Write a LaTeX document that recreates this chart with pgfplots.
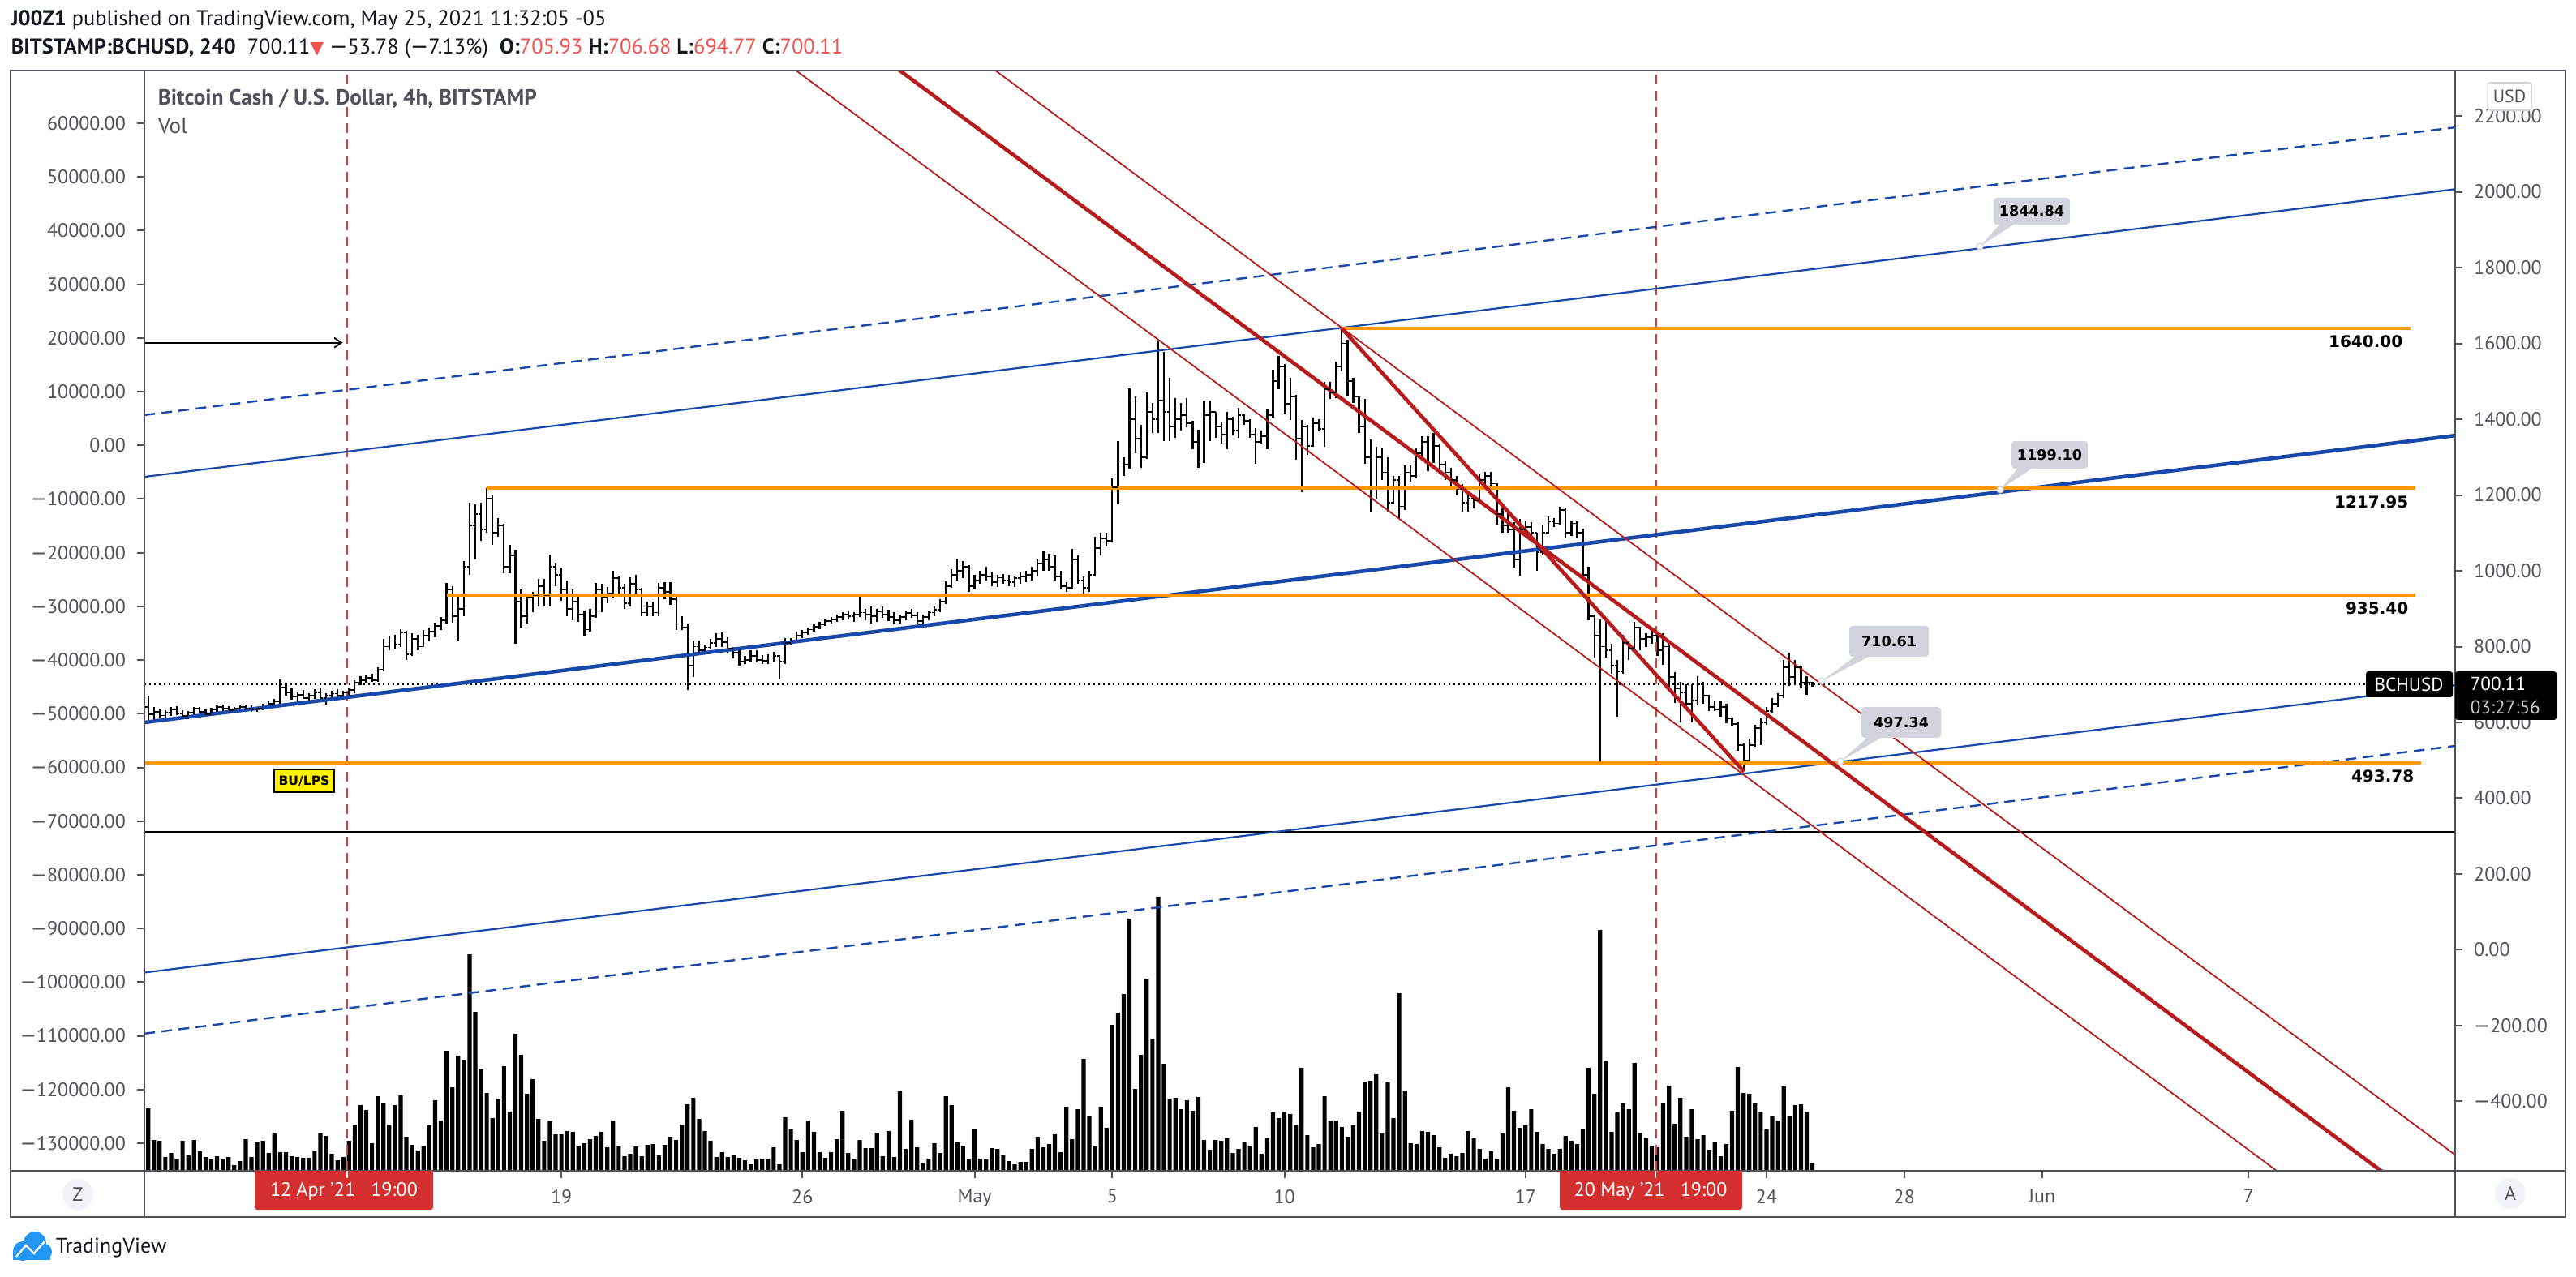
\documentclass[border=0pt]{standalone}
\usepackage{fontspec}
\setmainfont{PT Sans}
\newfontfamily\dv{DejaVu Sans}
\usepackage{pgfplots}
\pgfplotsset{compat=1.18}
\usepackage{pgfplotstable}
\usetikzlibrary{arrows.meta}
\definecolor{tvgray}{RGB}{80,83,94}
\definecolor{tvdark}{RGB}{19,23,34}
\definecolor{tvblue}{RGB}{24,72,170}
\definecolor{tvred}{RGB}{183,28,28}
\definecolor{tvorange}{RGB}{255,152,0}
\definecolor{tvdash}{RGB}{229,57,53}
\definecolor{tvlbl}{RGB}{209,212,220}
\definecolor{tvdate}{RGB}{211,47,47}
\definecolor{tvred2}{RGB}{239,83,80}
\definecolor{tvcirc}{RGB}{240,243,250}
\definecolor{tvlogo}{RGB}{33,150,243}
\newcommand\fs[1]{\fontsize{#1}{#1}\selectfont}
\newcommand\mn{{\dv −}}
\pgfdeclareplotmark{nothing}{}
\pgfdeclareplotmark{otick}{\pgfpathmoveto{\pgfqpoint{-0.85pt}{0pt}}\pgfpathlineto{\pgfqpoint{0pt}{0pt}}\pgfusepathqstroke}
\pgfdeclareplotmark{ctick}{\pgfpathmoveto{\pgfqpoint{0pt}{0pt}}\pgfpathlineto{\pgfqpoint{0.85pt}{0pt}}\pgfusepathqstroke}
\pgfplotstableread{
i o h l c
0 640 671 600 622
1 622 640 605 628
2 628 637 612 618
3 618 632 603 625
4 625 640 618 635
5 635 642 620 624
6 624 633 610 617
7 617 630 608 626
8 626 640 620 636
9 636 641 624 628
10 628 634 615 622
11 622 638 618 634
12 634 646 628 640
13 640 648 630 636
14 636 642 626 632
15 632 640 624 637
16 637 646 632 641
17 641 647 633 636
18 636 644 628 634
19 634 641 627 637
20 637 650 632 646
21 646 656 640 650
22 650 662 644 656
23 656 714 650 693
24 693 705 670 680
25 680 692 660 668
26 668 680 655 672
27 672 686 662 665
28 665 678 650 670
29 670 688 662 680
30 680 690 660 664
31 664 676 648 670
32 670 684 660 676
33 676 688 665 670
34 670 684 662 678
35 678 692 668 685
36 685 712 676 705
37 705 722 698 712
38 712 726 704 718
39 718 728 706 712
40 712 745 708 740
41 740 821 735 800
42 800 829 790 815
43 815 832 795 805
44 805 846 800 838
45 838 842 764 780
46 780 835 775 820
47 820 830 790 800
48 800 843 798 830
49 830 850 815 840
50 840 864 825 855
51 855 879 843 870
52 870 968 860 950
53 950 960 864 880
54 880 935 814 900
55 900 1025 880 1010
56 1010 1179 990 1120
57 1120 1175 1029 1150
58 1150 1179 1079 1110
59 1110 1218 1100 1190
60 1190 1200 1068 1100
61 1100 1140 1090 1120
62 1120 1125 993 1010
63 1010 1068 993 1040
64 1040 1055 807 920
65 920 950 850 880
66 880 940 860 930
67 930 945 890 935
68 935 978 905 960
69 960 978 905 935
70 935 1043 906 1010
71 1010 1022 960 990
72 990 1008 920 950
73 950 975 880 900
74 900 950 870 920
75 920 940 865 885
76 885 895 829 845
77 845 900 840 880
78 880 968 875 950
79 950 965 890 930
80 930 958 915 940
81 940 1000 929 980
82 980 985 940 955
83 955 965 900 915
84 915 982 905 965
85 965 990 940 950
86 950 955 880 890
87 890 918 880 905
88 905 918 880 890
89 890 968 880 955
90 955 970 925 945
91 945 970 910 925
92 925 935 843 860
93 860 880 843 850
94 850 860 686 750
95 750 816 720 800
96 800 816 780 790
97 790 805 785 798
98 798 820 795 810
99 810 835 800 820
100 820 838 800 812
101 812 825 785 795
102 795 800 770 785
103 785 790 750 760
104 760 775 755 765
105 765 790 760 775
106 775 790 758 765
107 765 778 754 762
108 762 780 755 770
109 770 786 760 775
110 775 778 714 760
111 760 822 755 810
112 810 822 805 815
113 815 840 810 830
114 830 843 822 838
115 838 850 830 845
116 845 858 840 852
117 852 865 845 858
118 858 872 855 868
119 868 879 860 872
120 872 885 865 878
121 878 890 870 884
122 884 895 872 880
123 880 890 865 885
124 885 932 879 890
125 890 900 870 885
126 885 905 860 880
127 880 900 865 892
128 892 905 875 885
129 885 898 868 878
130 878 890 858 870
131 870 885 860 878
132 878 895 870 888
133 888 900 875 882
134 882 892 858 868
135 868 885 862 878
136 878 895 870 890
137 890 905 880 898
138 898 925 890 918
139 918 972 912 960
140 960 1005 955 990
141 990 1033 975 1000
142 1000 1026 980 1010
143 1010 1015 944 960
144 960 990 950 975
145 975 1000 965 990
146 990 1010 975 985
147 985 995 960 970
148 970 990 958 982
149 982 992 965 975
150 975 990 960 970
151 970 985 958 980
152 980 995 965 985
153 985 1000 970 990
154 990 1010 975 1000
155 1000 1030 985 1020
156 1020 1051 1000 1030
157 1030 1045 1000 1010
158 1010 1040 975 985
159 985 1000 950 960
160 960 970 945 955
161 955 1057 951 1030
162 1030 1040 965 975
163 975 985 940 955
164 955 1000 945 990
165 990 1090 985 1060
166 1060 1100 1040 1085
167 1085 1100 1065 1080
168 1080 1243 1075 1220
169 1220 1343 1175 1290
170 1290 1300 1250 1280
171 1280 1481 1270 1400
172 1400 1460 1310 1350
173 1350 1385 1271 1300
174 1300 1470 1295 1420
175 1420 1442 1364 1400
176 1400 1606 1364 1450
177 1450 1577 1343 1420
178 1420 1510 1343 1380
179 1380 1456 1350 1400
180 1400 1442 1370 1410
181 1410 1456 1378 1390
182 1390 1395 1321 1340
183 1340 1372 1271 1290
184 1290 1449 1285 1410
185 1410 1449 1342 1420
186 1420 1420 1350 1380
187 1380 1392 1335 1360
188 1360 1420 1321 1400
189 1400 1407 1357 1370
190 1370 1431 1350 1410
191 1410 1413 1385 1395
192 1395 1400 1350 1360
193 1360 1377 1282 1340
194 1340 1370 1335 1355
195 1355 1428 1321 1410
196 1410 1531 1405 1500
197 1500 1567 1480 1540
198 1540 1545 1414 1440
199 1440 1509 1399 1460
200 1460 1465 1293 1350
201 1350 1399 1207 1380
202 1380 1385 1306 1330
203 1330 1405 1328 1390
204 1390 1400 1368 1375
205 1375 1499 1328 1480
206 1480 1499 1453 1470
207 1470 1552 1456 1540
208 1540 1640 1527 1600
209 1600 1610 1463 1500
210 1500 1510 1442 1460
211 1460 1460 1364 1380
212 1380 1453 1282 1300
213 1300 1346 1154 1200
214 1200 1328 1190 1300
215 1300 1325 1240 1260
216 1260 1300 1157 1180
217 1180 1250 1175 1240
218 1240 1250 1136 1170
219 1170 1278 1160 1260
220 1260 1278 1235 1250
221 1250 1324 1245 1310
222 1310 1356 1300 1340
223 1340 1356 1264 1290
224 1290 1364 1285 1330
225 1330 1335 1260 1280
226 1280 1290 1240 1260
227 1260 1271 1214 1240
228 1240 1250 1200 1215
229 1215 1229 1157 1180
230 1180 1200 1157 1190
231 1190 1200 1164 1185
232 1185 1257 1180 1240
233 1240 1260 1221 1250
234 1250 1260 1221 1230
235 1230 1232 1122 1150
236 1150 1164 1100 1120
237 1120 1157 1100 1110
238 1110 1129 1008 1030
239 1030 1136 987 1110
240 1110 1132 1100 1115
241 1115 1129 1086 1100
242 1100 1100 1001 1050
243 1050 1122 1040 1100
244 1100 1143 1096 1130
245 1130 1140 1115 1125
246 1125 1168 1122 1160
247 1160 1164 1086 1100
248 1100 1130 1093 1125
249 1125 1130 1086 1100
250 1100 1111 979 990
251 990 1011 870 880
252 880 885 772 830
253 830 872 493.78 800
254 800 865 772 790
255 790 808 729 750
256 750 765 615 735
257 735 830 729 810
258 810 815 765 795
259 795 865 790 850
260 850 852 790 820
261 820 836 800 825
262 825 843 808 830
263 830 833 776 790
264 790 836 751 800
265 800 815 693 720
266 720 733 651 690
267 690 708 600 680
268 680 700 640 650
269 650 700 600 658
270 658 722 644 700
271 700 708 650 670
272 670 672 629 640
273 640 658 629 635
274 635 658 615 640
275 640 650 597 610
276 610 612 590 595
277 595 600 526 540
278 540 545 472 500
279 500 558 498 540
280 540 593 535 585
281 585 611 540 600
282 600 640 593 630
283 630 665 626 650
284 650 676 640 670
285 670 765 665 745
286 745 783 697 720
287 720 765 700 745
288 745 750 690 705
289 705 722 672 706
290 705.93 706.68 694.77 700.11
}\ohlc
\pgfplotstableread{
i v
0 77
1 38
2 37
3 17
4 22
5 15
6 37
7 19
8 38
9 24
10 17
11 14
12 18
13 14
14 17
15 7
16 12
17 39
18 17
19 35
20 37
21 22
22 46
23 23
24 23
25 18
26 17
27 16
28 16
29 25
30 46
31 43
32 21
33 13
34 17
35 37
36 56
37 81
38 75
39 34
40 92
41 84
42 57
43 81
44 93
45 42
46 32
47 25
48 31
49 56
50 87
51 62
52 148
53 103
54 142
55 137
56 267
57 196
58 126
59 96
60 65
61 89
62 129
63 73
64 169
65 143
66 95
67 113
68 64
69 37
70 62
71 45
72 45
73 49
74 48
75 31
76 34
77 39
78 43
79 48
80 29
81 62
82 30
83 18
84 21
85 30
86 18
87 32
88 33
89 19
90 32
91 42
92 38
93 57
94 82
95 90
96 64
97 49
98 37
99 17
100 23
101 17
102 20
103 16
104 13
105 8
106 14
107 15
108 15
109 29
110 8
111 66
112 51
113 38
114 23
115 62
116 48
117 23
118 16
119 23
120 39
121 74
122 22
123 15
124 38
125 28
126 28
127 47
128 18
129 49
130 17
131 98
132 27
133 63
134 29
135 9
136 15
137 34
138 22
139 92
140 81
141 35
142 31
143 14
144 52
145 15
146 14
147 28
148 27
149 19
150 12
151 8
152 11
153 11
154 27
155 42
156 29
157 33
158 45
159 23
160 79
161 39
162 76
163 138
164 68
165 31
166 79
167 53
168 180
169 195
170 218
171 311
172 101
173 143
174 237
175 163
176 338
177 132
178 89
179 90
180 76
181 87
182 74
183 91
184 38
185 26
186 38
187 37
188 40
189 22
190 27
191 36
192 31
193 54
194 21
195 41
196 72
197 65
198 73
199 70
200 56
201 127
202 44
203 29
204 33
205 92
206 62
207 62
208 54
209 42
210 56
211 73
212 110
213 111
214 119
215 46
216 110
217 65
218 219
219 99
220 34
221 33
222 49
223 48
224 44
225 29
226 16
227 21
228 18
229 22
230 49
231 40
232 27
233 15
234 24
235 15
236 46
237 103
238 74
239 53
240 56
241 76
242 48
243 33
244 27
245 21
246 27
247 43
248 37
249 33
250 52
251 127
252 95
253 297
254 135
255 48
256 72
257 83
258 76
259 133
260 46
261 41
262 31
263 29
264 84
265 105
266 58
267 90
268 42
269 76
270 39
271 44
272 26
273 36
274 18
275 33
276 74
277 128
278 96
279 95
280 83
281 73
282 51
283 68
284 62
285 104
286 68
287 81
288 82
289 73
290 10
}\vol
\pgfplotsset{tvax/.style={at={(44.5pt,32.5pt)}, anchor=south west, width=712.25pt, height=339.25pt, scale only axis, xmin=6.89, xmax=74, scaled x ticks=false, scaled y ticks=false}}
\begin{document}
\begin{tikzpicture}
\path[use as bounding box] (0pt,0pt) rectangle (794pt,393.5pt);
\fill[white] (0pt,0pt) rectangle (794pt,393.5pt);
% volume
\begin{axis}[tvax, ymin=0, ymax=1357, hide axis]
\addplot [ybar, bar width=1.3pt, bar shift=0pt, fill=black, draw=none] table [x expr=7+\thisrow{i}/6, y=v] {\vol};
\end{axis}
% left scale
\begin{axis}[tvax, ymin=-135137, ymax=69817, axis line style={draw=none}, xtick=\empty,
  ytick={-130000,-120000,-110000,-100000,-90000,-80000,-70000,-60000,-50000,-40000,-30000,-20000,-10000,0,10000,20000,30000,40000,50000,60000},
  yticklabels={{\mn130000.00},{\mn120000.00},{\mn110000.00},{\mn100000.00},{\mn90000.00},{\mn80000.00},{\mn70000.00},{\mn60000.00},{\mn50000.00},{\mn40000.00},{\mn30000.00},{\mn20000.00},{\mn10000.00},0.00,10000.00,20000.00,30000.00,40000.00,50000.00,60000.00},
  ytick pos=left, tick align=outside, major tick length=2.25pt,
  tick style={tvgray, line width=0.5pt},
  yticklabel style={font=\fs{6}, text=tvgray}]
\end{axis}
% price
\begin{axis}[tvax, ymin=-583, ymax=2320, axis line style={draw=none},
  ytick={-400,-200,0,200,400,600,800,1000,1200,1400,1600,1800,2000,2200},
  yticklabels={{\mn400.00},{\mn200.00},0.00,200.00,400.00,600.00,800.00,1000.00,1200.00,1400.00,1600.00,1800.00,2000.00,2200.00},
  ytick pos=right, yticklabel pos=right, xtick pos=left,
  xtick={19,26,31,35,40,47,54,58,62,68},
  xticklabels={19,26,May,5,10,17,24,28,Jun,7},
  tick align=outside, major tick length=2.25pt,
  tick style={tvgray, line width=0.5pt},
  yticklabel style={font=\fs{6}, text=tvgray},
  xticklabel style={font=\fs{6}, text=tvgray}]
% OHLC
\addplot [only marks, mark=nothing, black, error bars/.cd, y dir=both, y explicit, error mark=none, error bar style={line width=0.55pt, black}]
  table [x expr=7+\thisrow{i}/6, y=c, y error plus expr=\thisrow{h}-\thisrow{c}, y error minus expr=\thisrow{c}-\thisrow{l}] {\ohlc};
\addplot [only marks, black, mark=otick, mark options={line width=0.45pt}] table [x expr=7+\thisrow{i}/6, y=o] {\ohlc};
\addplot [only marks, black, mark=ctick, mark options={line width=0.45pt}] table [x expr=7+\thisrow{i}/6, y=c] {\ohlc};
% dashed red verticals
\addplot [tvdash, line width=0.5pt, dash pattern=on 3pt off 2pt] coordinates {(12.79,-583) (12.79,2320)};
\addplot [tvdash, line width=0.5pt, dash pattern=on 3pt off 2pt] coordinates {(50.79,-583) (50.79,2320)};
% horizontal lines
\addplot [black, line width=0.5pt] coordinates {(6.89,311) (74,311)};
\addplot [black, line width=0.5pt, dash pattern=on 0.5pt off 1pt] coordinates {(6.89,700.11) (74,700.11)};
% blue channel
\addplot [tvblue, line width=1.15pt] coordinates {(6.89,600) (74,1357)};
\addplot [tvblue, line width=0.55pt] coordinates {(6.89,1248) (74,2007)};
\addplot [tvblue, line width=0.6pt, dash pattern=on 3.3pt off 2pt] coordinates {(6.89,1411) (74,2170)};
\addplot [tvblue, line width=0.55pt] coordinates {(6.89,-60) (74,698)};
\addplot [tvblue, line width=0.6pt, dash pattern=on 3.3pt off 2pt] coordinates {(6.89,-221) (74,538)};
% orange levels
\addplot [tvorange, line width=1pt] coordinates {(41.66,1640) (72.7,1640)};
\addplot [tvorange, line width=1pt] coordinates {(16.83,1217.95) (72.85,1217.95)};
\addplot [tvorange, line width=1pt] coordinates {(15.68,935.40) (72.85,935.40)};
\addplot [tvorange, line width=1pt] coordinates {(6.89,493.78) (73.0,493.78)};
% red lines
\addplot [tvred, line width=1.15pt] coordinates {(28,2376) (73,-661)};
\addplot [tvred, line width=0.45pt] coordinates {(25,2375) (70,-663)};
\addplot [tvred, line width=0.45pt] coordinates {(31,2361) (74,-541)};
\addplot [tvred, line width=1.15pt] coordinates {(41.66,1640) (53.35,470)};
% arrow
\addplot [black, line width=0.45pt, -{Straight Barb[length=2.2pt,width=3pt]}] coordinates {(6.89,1602) (12.65,1602)};
\end{axis}
\begin{scope}[x=0.25pt,y=-0.25pt,yshift=393.5pt]
% frame
\draw[tvgray, line width=0.55pt] (13,87) rectangle (3163,1501);
\draw[tvgray, line width=0.55pt] (178,87)--(178,1501) (3027,87)--(3027,1501) (13,1444)--(3163,1444);
% header
\node[anchor=west, inner sep=0, text=tvdark, font=\fs{6.6}] at (13,25) {\bfseries J00Z1\mdseries\ published on TradingView.com, May 25, 2021 11:32:05 -05};
\node[anchor=west, inner sep=0, text=tvdark, font=\fs{6.6}] at (13,60) {\bfseries BITSTAMP:BCHUSD, 240\mdseries\ \ 700.11{\color{tvred2}\dv\fs{5.5}▼}\ \mn53.78 (\mn7.13\%)\ \ \textbf{O:}{\color{tvred2}705.93}\ \textbf{H:}{\color{tvred2}706.68}\ \textbf{L:}{\color{tvred2}694.77}\ \textbf{C:}{\color{tvred2}700.11}};
\node[anchor=west, inner sep=0, text=tvgray, font=\fs{6.8}\bfseries] at (194,122) {Bitcoin Cash / U.S. Dollar, 4h, BITSTAMP};
\node[anchor=west, inner sep=0, text=tvgray, font=\fs{6.8}] at (194,155) {Vol};
% level labels
\node[anchor=east, inner sep=0, font=\dv\bfseries\fs{5}] at (2963,421) {1640.00};
\node[anchor=east, inner sep=0, font=\dv\bfseries\fs{5}] at (2970,619) {1217.95};
\node[anchor=east, inner sep=0, font=\dv\bfseries\fs{5}] at (2970,750) {935.40};
\node[anchor=east, inner sep=0, font=\dv\bfseries\fs{5}] at (2977,957) {493.78};
% callouts
\fill[tvlbl, rounded corners=1pt] (2458,244) rectangle (2552,277);
\fill[tvlbl] (2466,276)--(2441,304)--(2484,276)--cycle;
\filldraw[fill=white, draw=tvlbl, line width=0.3pt] (2441,304) circle (4);
\node[font=\dv\bfseries\fs{4.4}] at (2505,260.5) {1844.84};
\fill[tvlbl, rounded corners=1pt] (2480,544) rectangle (2574,578);
\fill[tvlbl] (2488,577)--(2466,604)--(2506,577)--cycle;
\filldraw[fill=white, draw=tvlbl, line width=0.3pt] (2466,604) circle (4);
\node[font=\dv\bfseries\fs{4.4}] at (2527,561) {1199.10};
\fill[tvlbl, rounded corners=1pt] (2280,772) rectangle (2378,810);
\fill[tvlbl] (2288,809)--(2246,840)--(2306,809)--cycle;
\filldraw[fill=white, draw=tvlbl, line width=0.3pt] (2246,840) circle (4);
\node[font=\dv\bfseries\fs{4.4}] at (2329,791) {710.61};
\fill[tvlbl, rounded corners=1pt] (2295,872) rectangle (2393,910);
\fill[tvlbl] (2303,909)--(2269,939)--(2321,909)--cycle;
\filldraw[fill=white, draw=tvlbl, line width=0.3pt] (2269,939) circle (4);
\node[font=\dv\bfseries\fs{4.4}] at (2344,891) {497.34};
% BU/LPS
\filldraw[fill=yellow, draw=black, line width=0.4pt] (338,949) rectangle (412,977);
\node[font=\dv\bfseries\fs{3.9}] at (375,963) {BU/LPS};
% right price labels
\fill[black, rounded corners=0.8pt] (2917,828) rectangle (3024,860);
\node[text=white, font=\fs{5.8}] at (2970,844) {BCHUSD};
\fill[black, rounded corners=0.8pt] (3027,828) rectangle (3152,888);
\node[anchor=west, inner sep=0, text=white, font=\fs{5.8}] at (3045,843) {700.11};
\node[anchor=west, inner sep=0, text=white!80!black, font=\fs{5.8}] at (3045,872) {03:27:56};
\filldraw[fill=white, draw=tvlbl, line width=0.4pt, rounded corners=0.8pt] (3067,102) rectangle (3121,136);
\node[text=tvgray, font=\fs{5.5}] at (3094,119) {USD};
% date boxes
\fill[tvdate, rounded corners=0.8pt] (314,1444) rectangle (534,1492);
\fill[tvdate] (314,1444) rectangle (534,1460);
\node[text=white, font=\fs{6}] at (424,1469) {12 Apr ’21\ \ \ 19:00};
\fill[tvdate, rounded corners=0.8pt] (1923,1444) rectangle (2148,1492);
\fill[tvdate] (1923,1444) rectangle (2148,1460);
\node[text=white, font=\fs{6}] at (2035,1469) {20 May ’21\ \ \ 19:00};
\draw[white, line width=0.5pt] (428,1444)--(428,1453) (2041,1444)--(2041,1453);
% corner buttons
\fill[tvcirc] (96,1473) circle (19);
\node[text=tvgray, font=\fs{6}] at (96,1473) {Z};
\fill[tvcirc] (3095,1472) circle (19);
\node[text=tvgray, font=\fs{6}] at (3095,1472) {A};
% logo
\fill[tvlogo] (28,1543) circle (12) (43,1533) circle (14) (54,1544) circle (10);
\fill[tvlogo] (16,1543) rectangle (62,1554);
\draw[white, line width=0.6pt] (20,1550)--(32,1536)--(42,1546)--(56,1530);
\node[anchor=west, inner sep=0, text=tvdark, font=\fs{6.5}] at (68,1539) {TradingView};
\end{scope}
\end{tikzpicture}
\end{document}
